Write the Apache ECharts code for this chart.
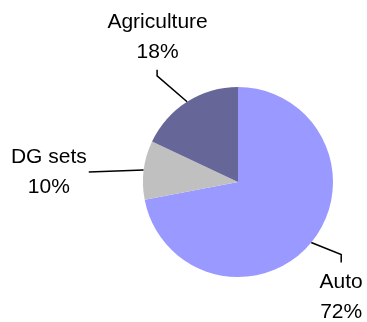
<!DOCTYPE html>
<html>
<head>
<meta charset="utf-8">
<script src="https://cdn.jsdelivr.net/npm/echarts@6/dist/echarts.min.js"></script>
<style>html,body{margin:0;padding:0;background:#fff}#c{width:367px;height:322px}</style>
</head>
<body>
<div id="c"></div>
<script>
// Data
const categories = ['Auto', 'DG sets', 'Agriculture'];
const shares = [72, 10, 18];

// Styles / layout (not data)
const sliceColors = ['#9999FF', '#C0C0C0', '#666699'];
const CX = 238, CY = 182, R = 95;
const leaderStyle = [
  { elbow: [30, 12], end: [0, 8], align: 'center', vAlign: 'top', labelOff: [0, 5] },
  { elbow: [-55, 2], end: [0, 0], align: 'right', vAlign: 'middle', labelOff: [-2, 0] },
  { elbow: [-30, -26], end: [0, -6], align: 'center', vAlign: 'bottom', labelOff: [0.5, -3] }
];

const total = shares.reduce((a, b) => a + b, 0);
function edgePoint(i) {
  let before = 0;
  for (let k = 0; k < i; k++) before += shares[k];
  const a = (before + shares[i] / 2) / total * Math.PI * 2;
  return [CX + R * Math.sin(a), CY - R * Math.cos(a)];
}

const chart = echarts.init(document.getElementById('c'), null, { renderer: 'canvas' });
chart.setOption({
  animation: false,
  series: [{
    type: 'pie',
    center: [CX, CY],
    radius: R,
    startAngle: 90,
    clockwise: true,
    avoidLabelOverlap: false,
    data: categories.map((n, i) => ({ name: n, value: shares[i], itemStyle: { color: sliceColors[i] } })),
    itemStyle: { borderWidth: 0 },
    emphasis: { disabled: true },
    label: {
      show: true,
      position: 'outside',
      formatter: p => p.name + '\n' + Math.round(p.percent) + '%',
      fontFamily: 'Liberation Sans, Arial, sans-serif',
      fontSize: 21,
      lineHeight: 30,
      color: '#000',
      align: 'center'
    },
    labelLine: { show: true, lineStyle: { color: '#000', width: 1.5 } },
    labelLayout: function (params) {
      const i = params.dataIndex;
      const s = leaderStyle[i];
      const e = edgePoint(i);
      const elbow = [e[0] + s.elbow[0], e[1] + s.elbow[1]];
      const end = [elbow[0] + s.end[0], elbow[1] + s.end[1]];
      let x = end[0] + s.labelOff[0], y = end[1] + s.labelOff[1];
      const w = params.labelRect.width;
      if (s.align === 'right') x = x - w / 2;
      return {
        x: x, y: y,
        align: 'center',
        verticalAlign: s.vAlign,
        labelLinePoints: [e, elbow, end]
      };
    }
  }]
});
</script>
</body>
</html>
